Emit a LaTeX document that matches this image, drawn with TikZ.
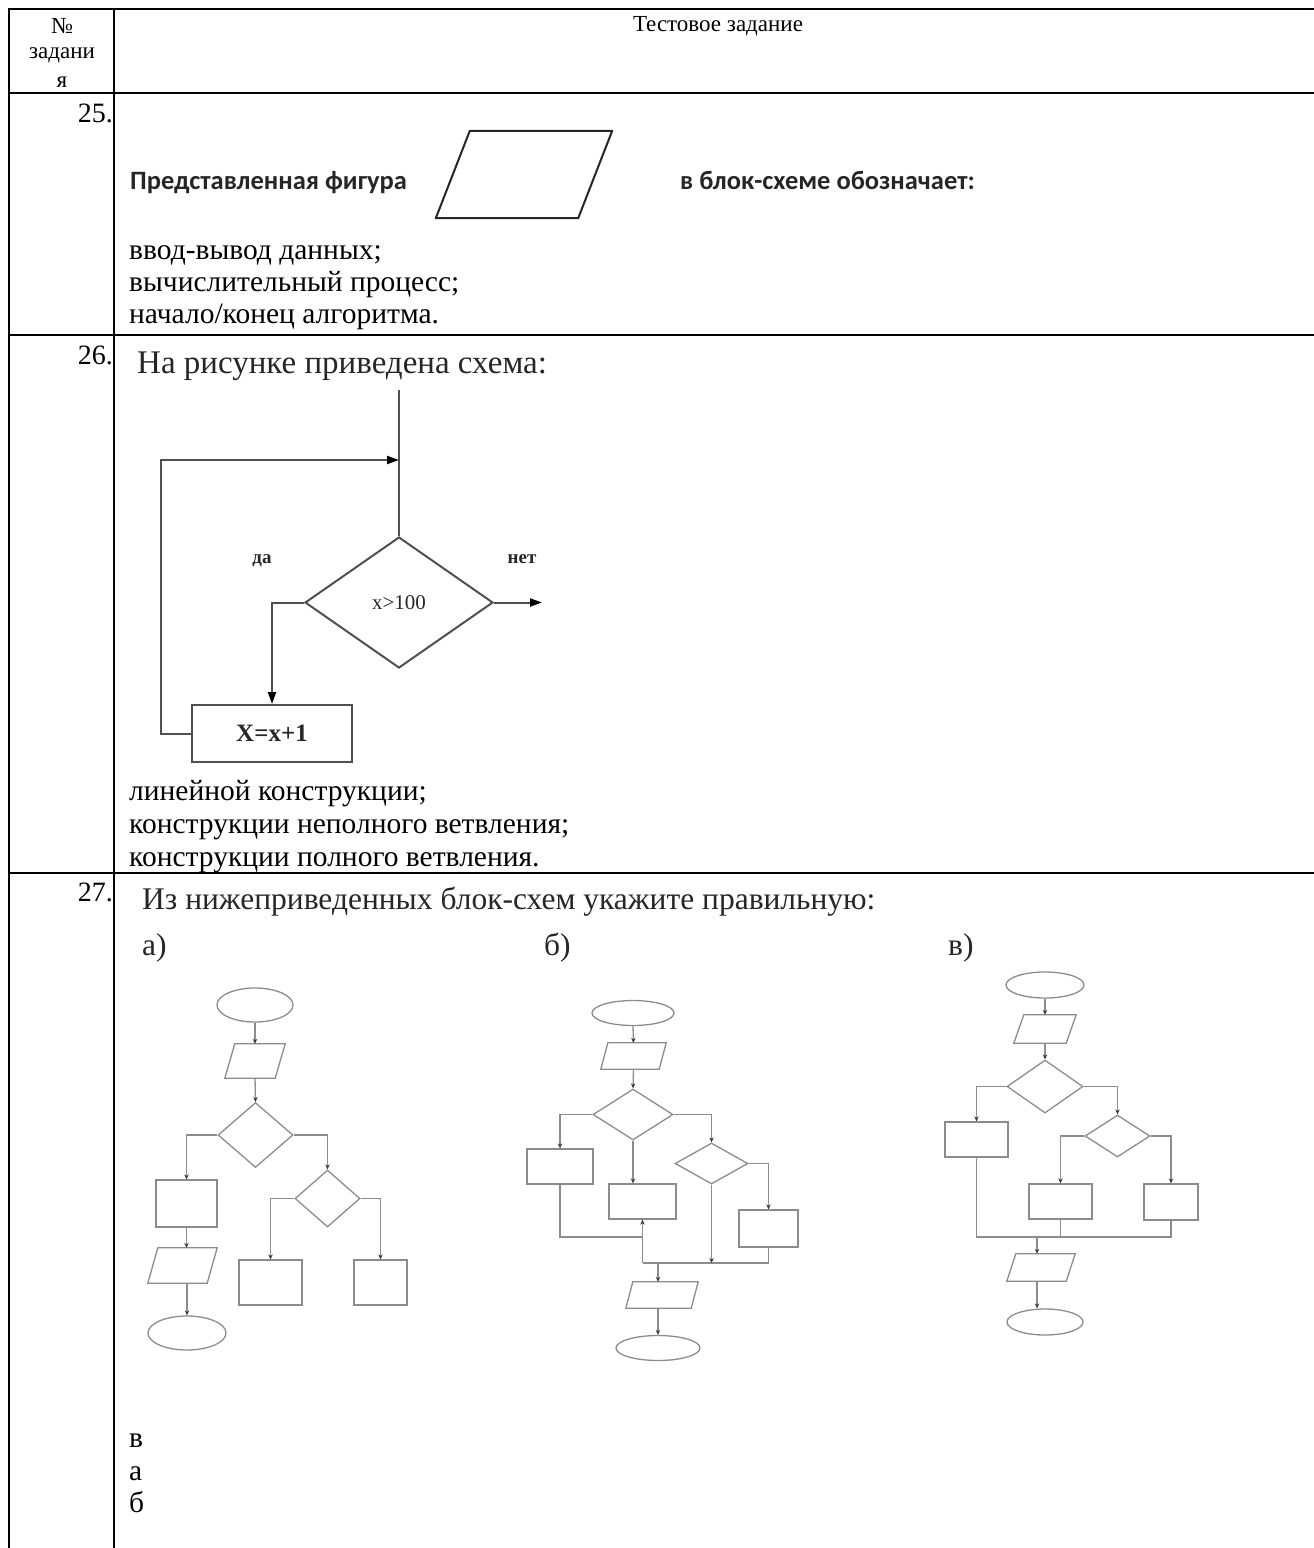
\documentclass[tikz,border=0pt]{standalone}
\usepackage{fontspec}
\setmainfont{Liberation Serif}
\newfontfamily\calib{Carlito}
\usetikzlibrary{shapes.geometric,arrows.meta}
\definecolor{fg}{HTML}{8C8C8C}
\definecolor{ftip}{HTML}{3A3A3A}
\definecolor{gline}{HTML}{505050}
\definecolor{tdark}{HTML}{262626}
\newcommand\mypgram[7]{%
  \node[inner sep=0,minimum width=#4pt,minimum height=#5pt] (#1) at (#2,#3) {};
  \draw[#7] ([xshift=#6pt]#1.north west) -- (#1.north east) -- ([xshift=-#6pt]#1.south east) -- (#1.south west) -- cycle;}
\begin{document}
\begin{tikzpicture}[x=1pt,y=-1pt,
  tline/.style={line width=1.6pt,black},
  hdr/.style={anchor=base,inner sep=0,font=\fontsize{23pt}{27pt}\selectfont},
  num/.style={anchor=base east,inner sep=0,font=\fontsize{28pt}{32pt}\selectfont},
  body/.style={anchor=base west,inner sep=0,font=\fontsize{29.5pt}{33pt}\selectfont},
  cal/.style={anchor=base west,inner sep=0,text=tdark,font=\calib\bfseries\fontsize{26.5pt}{30pt}\selectfont},
  ttl/.style={anchor=base west,inner sep=0,text=tdark,font=\fontsize{33pt}{37pt}\selectfont},
  ttlb/.style={anchor=base west,inner sep=0,text=tdark,font=\fontsize{31.5pt}{35pt}\selectfont},
  pg25/.style={draw=tdark,line width=2pt,line join=round},
  l26/.style={gline,line width=2pt},
  a26/.style={l26,-{Triangle[length=12pt,width=8pt,color=black]}},
  d26/.style={diamond,draw=gline,line width=2pt,inner sep=0,text=tdark},
  r26/.style={rectangle,draw=gline,line width=2pt,inner sep=0,text=tdark},
  fc/.style={draw=fg,line width=1.3pt,inner sep=0},
  fl/.style={fg,line width=1.3pt},
  fa/.style={fl,-{Stealth[length=5pt,width=4.5pt,color=ftip]}},
  fpg/.style={draw=fg,line width=1.3pt},
  fell/.style={ellipse,fc},
  frect/.style={rectangle,fc},
  fdia/.style={diamond,fc}]
\useasboundingbox (0,0) rectangle (1314,1548);
% ---------- table grid ----------
\draw[tline] (1314,9) -- (9,9) -- (9,1548);
\draw[tline] (114,9) -- (114,1548);
\draw[tline] (9,93) -- (1314,93);
\draw[tline] (9,335) -- (1314,335);
\draw[tline] (9,873) -- (1314,873);
% ---------- header ----------
\node[hdr] (h1) at (62,33) {№};
\node[hdr] (h2) at (62,58) {задани};
\node[hdr] (h3) at (62,87) {я};
\node[hdr] (h4) at (718,31) {Тестовое задание};
% ---------- numbers ----------
\node[num] (n25) at (113,122) {25.};
\node[num] (n26) at (113,364) {26.};
\node[num] (n27) at (113,901) {27.};
% ---------- task 25 ----------
\node[cal] (q25a) at (130,189) {Представленная фигура};
\mypgram{fig}{524}{174.5}{176}{87}{34}{pg25}
\node[cal] (q25b) at (680,189) {в блок-схеме обозначает:};
\node[body] (o25a) at (129,259) {ввод-вывод данных;};
\node[body] (o25b) at (129,291) {вычислительный процесс;};
\node[body] (o25c) at (129,323) {начало/конец алгоритма.};
% ---------- task 26 ----------
\node[ttl] (t26) at (137,373) {На рисунке приведена схема:};
\coordinate (s0) at (399,390);
\node[d26,minimum width=188pt,minimum height=131pt,font=\fontsize{21pt}{24pt}\selectfont] (q) at (399,602.5) {x>100};
\node[r26,minimum width=160pt,minimum height=57pt,font=\bfseries\fontsize{25pt}{28pt}\selectfont] (bx) at (272,733.5) {X=x+1};
\coordinate (lp) at (161,460);
\coordinate (lj) at (399,460);
\coordinate (qo) at (542,602.5);
\draw[l26] (s0) -- (q.north);
\draw[a26] (bx.west) -| (lp) -- (lj);
\draw[a26] (q.west) -| (bx.north);
\draw[a26] (q.east) -- (qo);
\node[inner sep=0,text=tdark,font=\bfseries\fontsize{19pt}{23pt}\selectfont] (yes) at (262,561) {да};
\node[inner sep=0,text=tdark,font=\bfseries\fontsize{19pt}{23pt}\selectfont] (no) at (522,559) {нет};
\node[body] (o26a) at (129,800) {линейной конструкции;};
\node[body] (o26b) at (129,833) {конструкции неполного ветвления;};
\node[body] (o26c) at (129,866) {конструкции полного ветвления.};
% ---------- task 27 ----------
\node[ttlb] (t27) at (142,909) {Из нижеприведенных блок-схем укажите правильную:};
\node[ttlb] (la) at (142,955) {а)};
\node[ttlb] (lb) at (544,955) {б)};
\node[ttlb] (lc) at (948,955) {в)};
% chart a
\node[fell,minimum width=76pt,minimum height=34pt] (a1) at (255,1005) {};
\mypgram{a2}{255}{1061}{60}{34}{10}{fpg}
\node[fdia,minimum width=75pt,minimum height=65pt] (a3) at (255.5,1135) {};
\node[frect,minimum width=61pt,minimum height=47pt] (a4) at (186.5,1203.5) {};
\mypgram{a5}{182.5}{1265.5}{69}{35}{10}{fpg}
\node[fell,minimum width=78pt,minimum height=34pt] (a6) at (187,1333) {};
\node[fdia,minimum width=65pt,minimum height=57pt] (a7) at (327.5,1198.5) {};
\node[frect,minimum width=63pt,minimum height=45pt] (a8) at (270.5,1282.5) {};
\node[frect,minimum width=53pt,minimum height=45pt] (a9) at (380.5,1282.5) {};
\draw[fa] (a1.south) -- (a2.north);
\draw[fa] (a2.south) -- (a3.north);
\draw[fa] (a3.west) -| (a4.north);
\draw[fa] (a4.south) -- (a4.south |- a5.north);
\draw[fa] (a6.north |- a5.south) -- (a6.north);
\draw[fa] (a3.east) -| (a7.north);
\draw[fa] (a7.west) -| (a8.north);
\draw[fa] (a7.east) -| (a9.north);
% chart b
\node[fell,minimum width=82pt,minimum height=25pt] (b1) at (633,1013) {};
\mypgram{b2}{633.5}{1056}{65}{26}{7}{fpg}
\node[fdia,minimum width=80pt,minimum height=51pt] (b3) at (633,1114.5) {};
\node[frect,minimum width=66pt,minimum height=35pt] (b4) at (560,1166.5) {};
\node[frect,minimum width=67pt,minimum height=35pt] (b5) at (642.5,1201.5) {};
\node[fdia,minimum width=73pt,minimum height=41pt] (b6) at (711.5,1163.5) {};
\node[frect,minimum width=59pt,minimum height=37pt] (b7) at (768.5,1228.5) {};
\mypgram{b8}{662}{1295}{72}{26}{7}{fpg}
\node[fell,minimum width=84pt,minimum height=25pt] (b9) at (658,1348) {};
\coordinate (bj1) at (642.5,1237);
\coordinate (bj2) at (642.5,1263);
\draw[fa] (b1.south) -- (b2.north);
\draw[fa] (b2.south) -- (b3.north);
\draw[fa] (b3.west) -| (b4.north);
\draw[fa] (b3.south) -- (b3.south |- b5.north);
\draw[fa] (b3.east) -| (b6.north);
\draw[fa] (b6.east) -| (b7.north);
\draw[fl] (b4.south) |- (bj1);
\draw[fa] (bj2) -- (b5.south);
\draw[fl] (bj2) -| (b7.south);
\draw[fa] (b6.south) -- (b6.south |- bj2);
\draw[fa] (b9.north |- bj2) -- (b9.north |- b8.north);
\draw[fa] (b9.north |- b8.south) -- (b9.north);
% chart c
\node[fell,minimum width=78pt,minimum height=26pt] (c1) at (1045,985) {};
\mypgram{c2}{1045}{1029}{62}{28}{10}{fpg}
\node[fdia,minimum width=76pt,minimum height=53pt] (c3) at (1045,1086.5) {};
\node[frect,minimum width=63pt,minimum height=35pt] (c4) at (976.5,1139.5) {};
\node[fdia,minimum width=65pt,minimum height=42pt] (c5) at (1117.5,1136) {};
\node[frect,minimum width=63pt,minimum height=35pt] (c6) at (1060.5,1201.5) {};
\node[frect,minimum width=54pt,minimum height=36pt] (c7) at (1171,1202) {};
\mypgram{c8}{1041}{1267.5}{68}{27}{9}{fpg}
\node[fell,minimum width=76pt,minimum height=26pt] (c9) at (1045,1322) {};
\coordinate (cj) at (1171,1237);
\coordinate (cj2) at (1037,1237);
\draw[fa] (c1.south) -- (c2.north);
\draw[fa] (c2.south) -- (c3.north);
\draw[fa] (c3.west) -| (c4.north);
\draw[fa] (c3.east) -| (c5.north);
\draw[fa] (c5.west) -| (c6.north);
\draw[fa] (c5.east) -| (c7.north);
\draw[fl] (c4.south) |- (cj) -- (c7.south);
\draw[fl] (c6.south) -- (c6.south |- cj);
\draw[fa] (cj2) -- (cj2 |- c8.north);
\draw[fa] (cj2 |- c8.south) -- (cj2 |- c9.north);
% answers
\node[body] (o27a) at (129,1447) {в};
\node[body] (o27b) at (129,1480) {а};
\node[body] (o27c) at (129,1512) {б};
\end{tikzpicture}
\end{document}
